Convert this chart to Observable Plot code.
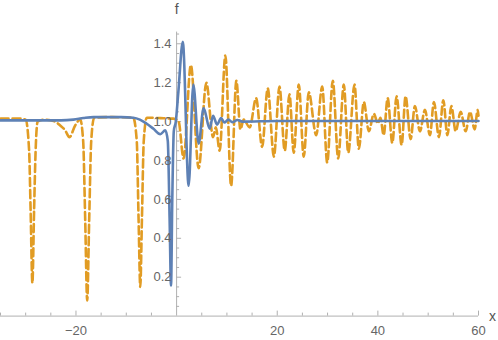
<!DOCTYPE html>
<html>
<head>
<meta charset="utf-8">
<script src="https://cdn.jsdelivr.net/npm/d3@7"></script>
<script src="https://cdn.jsdelivr.net/npm/@observablehq/plot@0.6"></script>
<style>
  html, body { margin: 0; padding: 0; background: #fff; }
  #chart svg { display: block; }
</style>
</head>
<body>
<div id="chart"></div>
<script>
// Solid blue curve
const blueX = [-35, -23.0, -20.5, -18.5, -16.5, -11.0, -8.6, -7.3, -6.0, -4.6, -3.24, -2.25, -1.75, -1.39, -1.11, -0.86, -0.56, -0.16, 0.34, 1.23, 2.39, 3.32, 4.38, 5.37, 6.57, 7.24, 8.04, 8.84, 9.49, 10.29, 11.08, 12.08, 13.07, 20, 60];
const blueF = [1.006, 1.006, 1.01, 1.018, 1.023, 1.023, 1.02, 1.01, 0.99, 0.963, 0.935, 0.955, 0.9, 0.5, 0.157, 0.6, 0.95, 1.0, 1.15, 1.41, 0.67, 1.19, 0.886, 1.07, 0.963, 1.03, 0.984, 1.018, 0.995, 1.01, 0.997, 1.008, 1.0, 1.003, 1.003];

// Dashed orange curve
const orangeX = [-35, -31, -30.0, -29.31, -29.02, -28.66, -28.32, -28.02, -27.62, -26.13, -24.14, -23.14, -22.15, -21.29, -20.16, -19.16, -18.57, -18.17, -17.77, -17.37, -16.97, -16.38, -13.19, -8.62, -7.92, -7.56, -7.22, -6.89, -6.53, -5.93, -3.24, -0.66, 0.40, 1.39, 2.83, 4.38, 5.91, 7.24, 7.80, 8.56, 9.69, 10.83, 11.88, 12.68, 13.33, 14.53, 15.80, 17.00, 18.11, 19.34, 20.44, 21.49, 22.43, 23.28, 24.28, 25.27, 26.27, 27.74, 28.94, 29.93, 31.04, 32.12, 33.23, 34.11, 35.36, 36.22, 37.21, 38.21, 39.20, 40.0, 40.5, 41.15, 41.95, 42.87, 43.72, 44.72, 45.51, 46.51, 47.36, 48.36, 49.35, 50.35, 51.14, 52.14, 53.01, 53.81, 54.61, 55.46, 56.46, 57.45, 58.31, 59.24, 59.84, 60];
const orangeF = [1.015, 1.015, 1.01, 0.85, 0.55, 0.17, 0.55, 0.85, 1.0, 1.01, 1.0, 0.98, 0.955, 0.92, 0.98, 1.01, 0.9, 0.5, 0.08, 0.5, 0.9, 1.02, 1.023, 1.02, 0.9, 0.5, 0.15, 0.5, 0.9, 1.02, 1.018, 1.015, 1.0, 0.81, 1.29, 0.76, 1.20, 0.92, 0.97, 0.85, 1.34, 0.67, 1.21, 0.96, 1.01, 0.97, 1.12, 0.87, 1.17, 0.82, 1.18, 0.85, 1.14, 0.84, 1.19, 0.82, 1.15, 0.93, 1.18, 0.79, 1.21, 0.81, 1.19, 0.84, 1.19, 0.86, 1.10, 0.95, 1.04, 0.99, 1.02, 0.93, 1.12, 0.89, 1.13, 0.88, 1.13, 0.91, 1.08, 0.95, 1.06, 0.93, 1.10, 0.92, 1.11, 0.93, 1.08, 0.95, 1.05, 0.95, 1.05, 0.96, 1.06, 1.03];

// Axes ticks and labels
const xMajor = [-20, 20, 40, 60];
const xMajorLabels = ["\u221220", "20", "40", "60"];
const xMinor = [-35, -30, -25, -15, -10, -5, 5, 10, 15, 25, 30, 35, 45, 50, 55];
const yMajor = [0.2, 0.4, 0.6, 0.8, 1.0, 1.2, 1.4];
const yMajorLabels = ["0.2", "0.4", "0.6", "0.8", "1.0", "1.2", "1.4"];
const yMinor = [0.05, 0.1, 0.15, 0.25, 0.3, 0.35, 0.45, 0.5, 0.55, 0.65, 0.7, 0.75, 0.85, 0.9, 0.95, 1.05, 1.1, 1.15, 1.25, 1.3, 1.35, 1.45];
const xDomain = [-35, 60];
const yDomain = [0, 1.46];

const blue = blueX.map((x, i) => ({x, f: blueF[i]}));
const orange = orangeX.map((x, i) => ({x, f: orangeF[i]}));

const axisColor = "#b0b0b0";
const labelColor = "#666";
const font = "Liberation Sans, Arial, sans-serif";

const chart = Plot.plot({
  width: 498,
  height: 340,
  marginLeft: 0,
  marginRight: 20,
  marginTop: 31.6,
  marginBottom: 24.4,
  x: {domain: xDomain, axis: null},
  y: {domain: yDomain, axis: null},
  style: {background: "#fff", fontFamily: font, overflow: "visible"},
  marks: [
    // axis lines
    Plot.ruleY([0], {x1: xDomain[0], x2: xDomain[1], stroke: axisColor, strokeWidth: 1}),
    Plot.ruleX([0], {y1: yDomain[0], y2: yDomain[1], stroke: axisColor, strokeWidth: 1}),
    // x ticks (pointing up)
    Plot.ruleX(xMajor, {x: d => d, y1: 0, y2: 0, insetBottom: 5, stroke: axisColor}),
    Plot.ruleX(xMinor, {x: d => d, y1: 0, y2: 0, insetBottom: 3, stroke: axisColor}),
    // y ticks (pointing right)
    Plot.ruleY(yMajor, {y: d => d, x1: 0, x2: 0, insetRight: -5, stroke: axisColor}),
    Plot.ruleY(yMinor, {y: d => d, x1: 0, x2: 0, insetRight: -3, stroke: axisColor}),
    // curves
    Plot.line(orange, {x: "x", y: "f", stroke: "#E19C24", strokeWidth: 2.6, strokeDasharray: "8,4", curve: "monotone-x"}),
    Plot.line(blue, {x: "x", y: "f", stroke: "#5E81B5", strokeWidth: 2.6, curve: "monotone-x"}),
    // tick labels
    Plot.text(xMajor, {x: d => d, y: 0, dy: 15, text: (d, i) => xMajorLabels[i], fill: labelColor, fontSize: 13}),
    Plot.text(yMajor, {x: 0, y: d => d, dx: -5, textAnchor: "end", text: (d, i) => yMajorLabels[i], fill: labelColor, fontSize: 13}),
    // axis labels
    Plot.text(["f"], {x: 0, y: yDomain[1], dy: -23, text: d => d, fill: "#555", fontSize: 14}),
    Plot.text(["x"], {x: xDomain[1], y: 0, dx: 14, dy: 0, text: d => d, fill: "#555", fontSize: 14})
  ]
});
document.getElementById("chart").appendChild(chart);
</script>
</body>
</html>
